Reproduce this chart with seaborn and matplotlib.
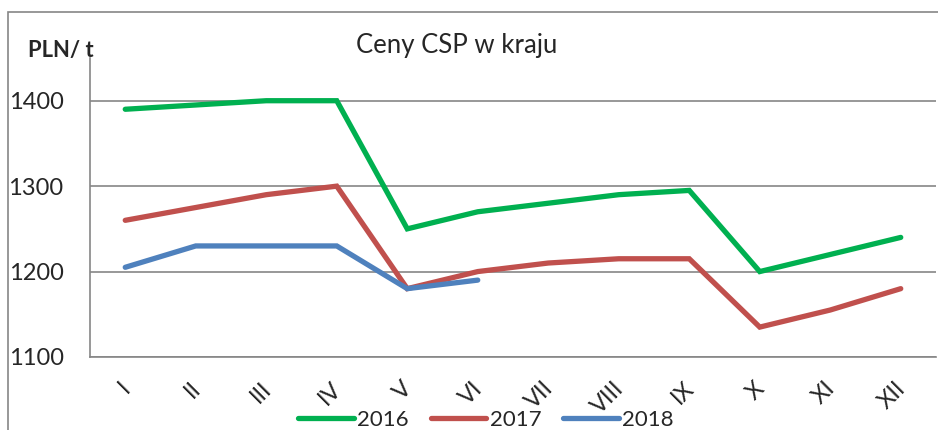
import pandas as pd
import matplotlib
matplotlib.use("Agg")
import matplotlib.pyplot as plt
import matplotlib.transforms as mtrans
import seaborn as sns
from matplotlib.lines import Line2D
from matplotlib.patches import Rectangle

# data
months = ["I", "II", "III", "IV", "V", "VI", "VII", "VIII", "IX", "X", "XI", "XII"]
prices_2016 = [1390, 1395, 1400, 1400, 1250, 1270, 1280, 1290, 1295, 1200, 1220, 1240]
prices_2017 = [1260, 1275, 1290, 1300, 1180, 1200, 1210, 1215, 1215, 1135, 1155, 1180]
prices_2018 = [1205, 1230, 1230, 1230, 1180, 1190]
years = ["2016", "2017", "2018"]
colors = ["#00B050", "#C0504D", "#4F81BD"]

rows = []
for year, vals in zip(years, [prices_2016, prices_2017, prices_2018]):
    for i, v in enumerate(vals):
        rows.append({"pos": i, "month": months[i], "year": year, "price": v})
df = pd.DataFrame(rows)

sns.set_style("white")
plt.rcParams["font.family"] = ["Lato", "DejaVu Sans"]

fig = plt.figure(figsize=(9.38, 4.30), dpi=100)
ax = fig.add_axes([90 / 938, 1 - 357 / 430, 846 / 938, (357 - 58) / 430])

# outer chart border
fig.patches.append(Rectangle((8 / 938, -0.1), 1.2, 1 - 12 / 430 + 0.1,
                             transform=fig.transFigure, fill=False,
                             edgecolor="#868686", linewidth=1.2, zorder=0))

sns.lineplot(data=df, x="pos", y="price", hue="year", palette=colors,
             linewidth=3.8, ax=ax, legend=False, sort=False)
for ln in ax.lines:
    ln.set_solid_capstyle("round")
    ln.set_solid_joinstyle("miter")

ax.set_xlim(-0.5, 11.5)
ax.set_ylim(1100, 1450)
ax.set_yticks([1100, 1200, 1300, 1400])
ax.set_yticklabels(["1100", "1200", "1300", "1400"], fontsize=17)
ax.set_xticks(range(12))
ax.set_xticklabels(months, fontsize=17, rotation=45, ha="right")
ax.set_xticks([i - 0.5 for i in range(13)], minor=True)
ax.tick_params(axis="x", which="major", length=0, pad=15)
ax.tick_params(axis="x", which="minor", length=6, width=1.2, color="#868686", direction="out")
ax.tick_params(axis="y", length=6, width=1.2, color="#868686", direction="out", pad=13)
ax.set_xlabel("")
ax.set_ylabel("")

# nudge rotated month labels to the right (after tick_params, which resets transforms)
shift = mtrans.ScaledTranslation(0.09, 0, fig.dpi_scale_trans)
for lbl in ax.get_xticklabels():
    lbl.set_transform(lbl.get_transform() + shift)

ax.grid(axis="y", color="#868686", linewidth=1.2)
ax.set_axisbelow(True)
for side in ["top", "right"]:
    ax.spines[side].set_visible(False)
for side in ["left", "bottom"]:
    ax.spines[side].set_color("#868686")
    ax.spines[side].set_linewidth(1.2)

fig.text(457 / 938, 1 - 45 / 430, "Ceny CSP w kraju", fontsize=18.5, ha="center", va="center")
fig.text(28 / 938, 1 - 50 / 430, "PLN/ t", fontsize=15.8, fontweight="bold", ha="left", va="center")

handles = [Line2D([0], [0], color=c, linewidth=3.8, solid_capstyle="round") for c in colors]
fig.legend(handles, years, loc="center", bbox_to_anchor=(486 / 938, 1 - 420 / 430),
           ncol=3, frameon=False, fontsize=16, handlelength=2.5, handletextpad=0.15,
           columnspacing=1.0, borderpad=0)

fig.savefig("out.png", dpi=100)
